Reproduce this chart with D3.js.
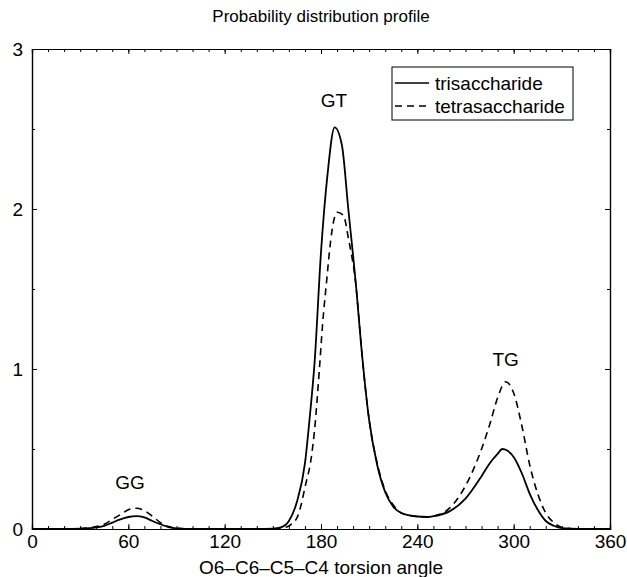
<!DOCTYPE html>
<html><head><meta charset="utf-8">
<script src="https://cdn.jsdelivr.net/npm/d3@7/dist/d3.min.js"></script>
<style>body{margin:0;background:#fff}svg{display:block}text{font-family:"Liberation Sans",Arial,sans-serif;fill:#000}</style>
</head><body><svg id="c" width="627" height="577"></svg>
<script>
const triAngle = [0,10,20,30,40,45,50,55,60,65,70,75,80,85,90,100,120,140,150,155,160,165,170,173,176,180,184,188.5,193,197,202,205,210,215,220,225,230,240,246,250,260,270,280,285,290,293,296,300,305,310,315,320,325,330,340,360];
const triValue = [0,0,0,0.002,0.01,0.02,0.04,0.06,0.075,0.08,0.072,0.05,0.03,0.012,0.004,0,0,0,0.002,0.01,0.05,0.17,0.41,0.7,1.04,1.73,2.21,2.51,2.4,2.0,1.5,1.15,0.68,0.4,0.23,0.14,0.1,0.078,0.075,0.08,0.11,0.19,0.33,0.41,0.47,0.5,0.49,0.45,0.35,0.22,0.12,0.05,0.02,0.005,0,0];
const tetAngle = [0,10,20,30,40,45,50,55,60,65,70,75,80,85,90,100,120,140,150,155,160,165,167.6,170,174,176,179,181,183.6,186,188,190,194,197,202,205,210,215,220,225,230,240,246,250,260,270,280,285,290,295,300,305,310,315,320,325,330,335,340,360];
const tetValue = [0,0,0,0.003,0.015,0.03,0.06,0.09,0.12,0.13,0.115,0.08,0.04,0.015,0.005,0,0,0,0,0.004,0.02,0.07,0.15,0.26,0.45,0.62,1.0,1.28,1.56,1.8,1.93,1.98,1.96,1.82,1.5,1.15,0.68,0.41,0.24,0.15,0.1,0.078,0.075,0.08,0.13,0.27,0.5,0.65,0.82,0.92,0.85,0.65,0.4,0.22,0.1,0.04,0.01,0.003,0,0];
const seriesNames = ["trisaccharide","tetrasaccharide"];
const xTicks = [0,60,120,180,240,300,360];
const yTicks = [0,1,2,3];
const peakLabels = ["GG","GT","TG"];
const peakAngles = [61,188,295];
const peakHeights = [0.25,2.64,1.02];

const svg = d3.select("#c");
const L=32,R=610,T=49,B=529;
const x = d3.scaleLinear().domain([0,360]).range([L,R]);
const y = d3.scaleLinear().domain([0,3]).range([B,T]);
const FS = 19;

const tl = 5;
svg.append("g").attr("transform",`translate(0,${B})`)
  .call(d3.axisBottom(x).tickValues(xTicks).tickSize(-tl).tickPadding(6).tickFormat(d3.format("d")));
svg.append("g").attr("transform",`translate(0,${B})`)
  .call(d3.axisBottom(x).tickValues(d3.range(0,361,10)).tickSize(-3).tickFormat(""));
svg.append("g").attr("transform",`translate(0,${T})`)
  .call(d3.axisTop(x).tickValues(xTicks).tickSize(-tl).tickFormat(""));
svg.append("g").attr("transform",`translate(0,${T})`)
  .call(d3.axisTop(x).tickValues(d3.range(0,361,10)).tickSize(-3).tickFormat(""));
svg.append("g").attr("transform",`translate(${L},0)`)
  .call(d3.axisLeft(y).tickValues(yTicks).tickSize(-tl).tickPadding(9).tickFormat(d3.format("d")));
svg.append("g").attr("transform",`translate(${L},0)`)
  .call(d3.axisLeft(y).tickValues([0.5,1.5,2.5]).tickSize(-3).tickFormat(""));
svg.append("g").attr("transform",`translate(${R},0)`)
  .call(d3.axisRight(y).tickValues(yTicks).tickSize(-tl).tickFormat(""));
svg.append("g").attr("transform",`translate(${R},0)`)
  .call(d3.axisRight(y).tickValues([0.5,1.5,2.5]).tickSize(-3).tickFormat(""));
svg.selectAll(".domain").attr("stroke","#000").attr("stroke-width",1.2);
svg.selectAll(".tick line").attr("stroke","#000");
svg.selectAll(".tick text").attr("font-size",FS).attr("font-family","Liberation Sans, Arial, sans-serif").attr("fill","#000");

const line = d3.line().x(d=>x(d[0])).y(d=>y(d[1])).curve(d3.curveMonotoneX);
svg.append("path").datum(d3.zip(triAngle,triValue)).attr("d",line)
  .attr("fill","none").attr("stroke","#000").attr("stroke-width",1.8);
svg.append("path").datum(d3.zip(tetAngle,tetValue)).attr("d",line)
  .attr("fill","none").attr("stroke","#000").attr("stroke-width",1.6).attr("stroke-dasharray","7,5");

peakLabels.forEach((t,i)=>{
  svg.append("text").attr("x",x(peakAngles[i])).attr("y",y(peakHeights[i]))
    .attr("text-anchor","middle").attr("font-size",FS).text(t);
});

const lg = svg.append("g");
lg.append("rect").attr("x",392).attr("y",67).attr("width",181).attr("height",53)
  .attr("fill","#fff").attr("stroke","#000").attr("stroke-width",1);
seriesNames.forEach((n,i)=>{
  const yy = 83 + i*23;
  lg.append("line").attr("x1",395).attr("x2",429).attr("y1",yy).attr("y2",yy)
    .attr("stroke","#000").attr("stroke-width",1.5).attr("stroke-dasharray",i? "7,5":null);
  lg.append("text").attr("x",435).attr("y",yy+7).attr("font-size",FS).text(n);
});

svg.append("text").attr("x",(L+R)/2).attr("y",22).attr("text-anchor","middle").attr("font-size",17).text("Probability distribution profile");
svg.append("text").attr("x",(L+R)/2).attr("y",574).attr("text-anchor","middle").attr("font-size",FS).text("O6\u2013C6\u2013C5\u2013C4 torsion angle");
</script></body></html>
